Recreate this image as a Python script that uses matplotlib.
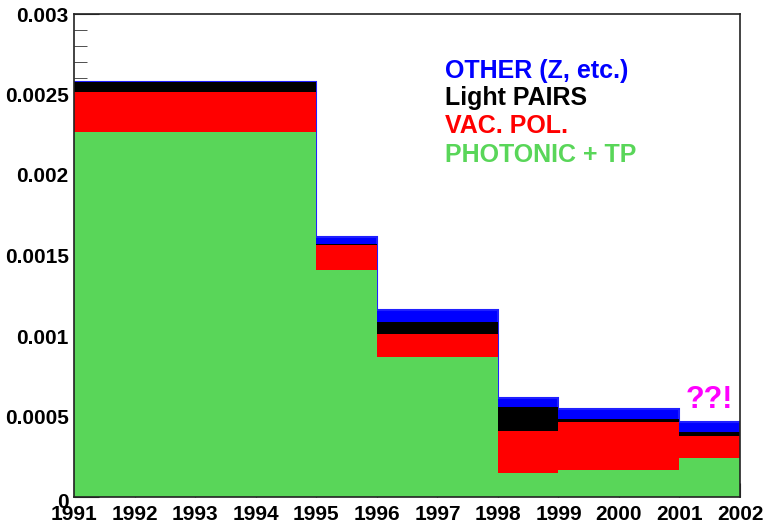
import matplotlib
matplotlib.use("Agg")
import matplotlib.pyplot as plt
from matplotlib.ticker import MultipleLocator, FixedLocator
import matplotlib.transforms as mtrans

plt.rcParams['font.family'] = ['Liberation Sans', 'DejaVu Sans']
plt.rcParams['font.weight'] = 'bold'

edges = [1991, 1995, 1996, 1998, 1999, 2001, 2002]
# cumulative (stacked) tops of each component per bin
photonic_tp = [0.002265, 0.001410, 0.000871, 0.000149, 0.000168, 0.000240]
vac_pol_top = [0.002516, 0.001565, 0.001012, 0.000412, 0.000468, 0.000381]
light_pairs_top = [0.002576, 0.001569, 0.001089, 0.000561, 0.000484, 0.000402]
other_top = [0.002576, 0.001613, 0.001161, 0.000617, 0.000547, 0.000466]

year_ticks = list(range(1991, 2003))
y_ticks = [0, 0.0005, 0.001, 0.0015, 0.002, 0.0025, 0.003]
y_labels = ['0', '0.0005', '0.001', '0.0015', '0.002', '0.0025', '0.003']

fig = plt.figure(figsize=(7.65, 5.23), dpi=100)
ax = fig.add_axes([74.3 / 765, 26 / 523, (740 - 74.3) / 765, (497 - 14) / 523])

green = '#59d659'
layers = [
    (other_top, '#0000ff'),
    (light_pairs_top, '#000000'),
    (vac_pol_top, '#ff0000'),
    (photonic_tp, green),
]
for i, (vals, col) in enumerate(layers):
    ax.stairs(vals, edges, baseline=0, fill=True, color=col, lw=0, zorder=2 + i)
ax.stairs(other_top, edges, baseline=0, fill=False, color='#2020ff', lw=1.5, zorder=2)

ax.set_xlim(1991, 2002)
ax.set_ylim(0, 0.003)
ax.xaxis.set_major_locator(FixedLocator(year_ticks))
ax.yaxis.set_minor_locator(MultipleLocator(0.0001))
ax.set_yticks(y_ticks)
ax.set_yticklabels(y_labels)
ax.set_xticklabels([str(y) for y in year_ticks])

ax.tick_params(axis='both', which='both', direction='in', labelsize=15, colors='#333333',
               labelcolor='black')
ax.tick_params(axis='y', which='major', length=18, pad=4)
ax.tick_params(axis='y', which='minor', length=9)
ax.tick_params(axis='x', which='major', length=10, pad=6)
for lab in ax.get_xticklabels() + ax.get_yticklabels():
    lab.set_fontweight('bold')

# lower the "0" label a bit like the reference
zero_lab = ax.get_yticklabels()[0]
zero_lab.set_transform(zero_lab.get_transform() +
                       mtrans.ScaledTranslation(0, -3 / 100, fig.dpi_scale_trans))

for s in ax.spines.values():
    s.set_linewidth(1.2)
    s.set_color('#222222')
    s.set_zorder(10)

# legend-like labels
legend_items = [
    ('OTHER (Z, etc.)', '#0000ff', 77.7),
    ('Light PAIRS', '#000000', 105.5),
    ('VAC. POL.', '#ff0000', 133),
    ('PHOTONIC + TP', green, 162),
]
for txt, col, ypix in legend_items:
    fig.text(445 / 765, 1 - ypix / 523, txt, color=col, fontsize=18, fontweight='bold',
             ha='left', va='baseline')

fig.text(686 / 765, 1 - 407.7 / 523, '??!', color='#ff00ff', fontsize=22, fontweight='bold',
         ha='left', va='baseline')

fig.savefig('out.png', dpi=100)
